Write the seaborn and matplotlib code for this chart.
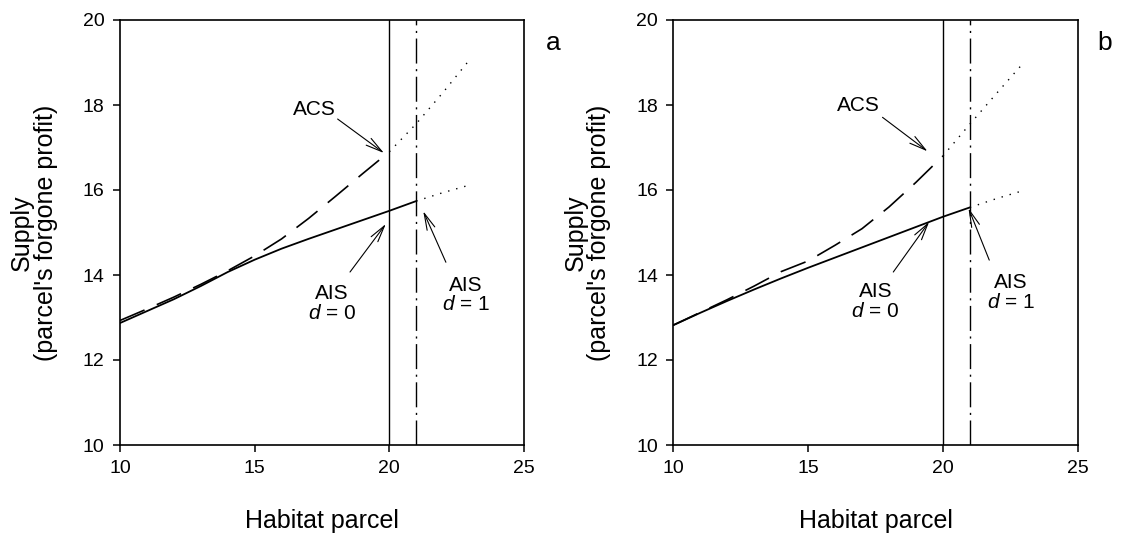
import numpy as np
import pandas as pd
import matplotlib
matplotlib.use("Agg")
import matplotlib.pyplot as plt
import seaborn as sns

# ---------------- data ----------------
x_main = [10, 11, 12, 13, 14, 15, 16, 17, 18, 19, 20]
x_ais = [10, 11, 12, 13, 14, 15, 16, 17, 18, 19, 20, 21]
x_acs_ext = [20, 21, 22, 23]
x_ais_ext = [21, 22, 23]

# panel a
acs_a = [12.93, 13.20, 13.48, 13.78, 14.10, 14.45, 14.85, 15.33, 15.85, 16.38, 16.90]
acs_a_ext = [16.90, 17.56, 18.30, 19.08]
ais_a = [12.87, 13.15, 13.43, 13.74, 14.07, 14.36, 14.62, 14.85, 15.07, 15.29, 15.51, 15.74]
ais_a_ext = [15.74, 15.94, 16.12]

# panel b
acs_b = [12.82, 13.12, 13.42, 13.74, 14.08, 14.33, 14.70, 15.09, 15.60, 16.18, 16.80]
acs_b_ext = [16.80, 17.55, 18.28, 19.00]
ais_b = [12.82, 13.11, 13.39, 13.66, 13.92, 14.17, 14.41, 14.65, 14.89, 15.13, 15.37, 15.59]
ais_b_ext = [15.59, 15.80, 15.99]

vlines = [20, 21]
x_ticks = [10, 15, 20, 25]
y_ticks = [10, 12, 14, 16, 18, 20]
panel_labels = ["a", "b"]

# annotation positions (text, arrow tail/tip) in data coords
ann_a = {
    "acs_text": (17.2, 17.9), "acs_tail": (18.08, 17.67), "acs_tip": (19.8, 16.87),
    "d0_text": (17.87, 13.33), "d0_tail": (18.54, 14.07), "d0_tip": (19.87, 15.2),
    "d1_text": (22.85, 13.53), "d1_tail": (22.1, 14.3), "d1_tip": (21.26, 15.5),
}
ann_b = {
    "acs_text": (16.86, 17.98), "acs_tail": (17.76, 17.71), "acs_tip": (19.43, 16.91),
    "d0_text": (17.5, 13.38), "d0_tail": (18.16, 14.07), "d0_tip": (19.49, 15.25),
    "d1_text": (22.52, 13.58), "d1_tail": (21.72, 14.35), "d1_tip": (20.95, 15.57),
}

# ---------------- style ----------------
sns.set_style("ticks")
plt.rcParams["font.family"] = ["Liberation Sans", "DejaVu Sans"]
plt.rcParams["mathtext.fontset"] = "custom"
plt.rcParams["mathtext.rm"] = "Liberation Sans"
plt.rcParams["mathtext.it"] = "Liberation Sans:italic"
for k in ["text.color", "axes.labelcolor", "xtick.color", "ytick.color",
          "axes.edgecolor"]:
    plt.rcParams[k] = "black"

fig = plt.figure(figsize=(11.21, 5.34), dpi=100)
W, H = 1121, 534
ax_a = fig.add_axes([120 / W, 1 - 445 / H, 404 / W, 425 / H])
ax_b = fig.add_axes([673.3 / W, 1 - 445 / H, 404.4 / W, 425 / H])

arrowprops = dict(arrowstyle="->,head_length=1.2,head_width=0.3", color="black",
                  lw=0.8, shrinkA=0, shrinkB=0)


def draw(ax, acs, acs_ext, ais, ais_ext, ann, label, label_x):
    sns.lineplot(x=x_main, y=acs, ax=ax, color="black", lw=1.2,
                 linestyle=(0, (16, 8)))
    sns.lineplot(x=x_acs_ext, y=acs_ext, ax=ax, color="black", lw=1.0,
                 linestyle=(0, (1, 5)))
    sns.lineplot(x=x_ais, y=ais, ax=ax, color="black", lw=1.3, linestyle="-")
    sns.lineplot(x=x_ais_ext, y=ais_ext, ax=ax, color="black", lw=1.0,
                 linestyle=(0, (1, 5)))
    ax.axvline(vlines[0], color="black", lw=1.0, linestyle="-")
    ax.axvline(vlines[1], color="black", lw=1.0, linestyle=(0, (18, 4, 1.5, 4)))

    ax.set_xlim(10, 25)
    ax.set_ylim(10, 20)
    ax.set_xticks(x_ticks)
    ax.set_yticks(y_ticks)
    ax.tick_params(direction="out", length=5, width=1.1, labelsize=14,
                   top=False, right=False, pad=6, colors="black")
    for s in ax.spines.values():
        s.set_visible(True)
        s.set_linewidth(1.2)
        s.set_color("black")

    ax.set_xlabel("Habitat parcel", fontsize=18)
    ax.xaxis.set_label_coords(0.5, -0.15)
    ax.set_ylabel("Supply\n(parcel's forgone profit)", fontsize=18,
                  linespacing=1.0)
    ax.yaxis.set_label_coords(-0.153, 0.5)

    ax.text(*ann["acs_text"], "ACS", fontsize=15, ha="center", va="center")
    ax.annotate("", xy=ann["acs_tip"], xytext=ann["acs_tail"], arrowprops=arrowprops)
    ax.text(*ann["d0_text"], "AIS\n$\\mathit{d}$ = 0", fontsize=15, ha="center",
            va="center", linespacing=1.05)
    ax.annotate("", xy=ann["d0_tip"], xytext=ann["d0_tail"], arrowprops=arrowprops)
    ax.text(*ann["d1_text"], "AIS\n$\\mathit{d}$ = 1", fontsize=15, ha="center",
            va="center", linespacing=1.05)
    ax.annotate("", xy=ann["d1_tip"], xytext=ann["d1_tail"], arrowprops=arrowprops)

    fig.text(label_x / W, 1 - 50 / H, label, fontsize=19, ha="center",
             va="baseline")


draw(ax_a, acs_a, acs_a_ext, ais_a, ais_a_ext, ann_a, panel_labels[0], 553)
draw(ax_b, acs_b, acs_b_ext, ais_b, ais_b_ext, ann_b, panel_labels[1], 1105)

fig.savefig("out.png", dpi=100)
